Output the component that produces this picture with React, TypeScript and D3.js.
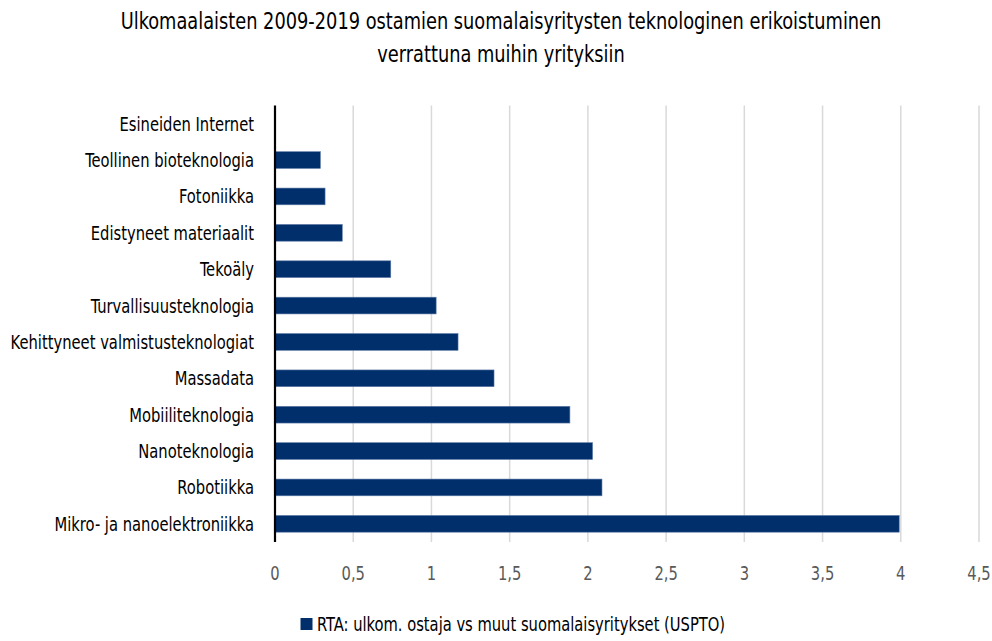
import * as d3 from 'd3'

const categories = [
  'Esineiden Internet',
  'Teollinen bioteknologia',
  'Fotoniikka',
  'Edistyneet materiaalit',
  'Tekoäly',
  'Turvallisuusteknologia',
  'Kehittyneet valmistusteknologiat',
  'Massadata',
  'Mobiiliteknologia',
  'Nanoteknologia',
  'Robotiikka',
  'Mikro- ja nanoelektroniikka',
]
const rtaValues = [0, 0.29, 0.32, 0.43, 0.74, 1.03, 1.17, 1.4, 1.885, 2.03, 2.09, 3.99]
const xTicks = [0, 0.5, 1, 1.5, 2, 2.5, 3, 3.5, 4, 4.5]
const titleLines = [
  'Ulkomaalaisten 2009-2019 ostamien suomalaisyritysten teknologinen erikoistuminen',
  'verrattuna muihin yrityksiin',
]
const seriesName = 'RTA: ulkom. ostaja vs muut suomalaisyritykset (USPTO)'

const W = 992
const H = 641
const margin = { top: 105.5, right: 13, bottom: 99, left: 275 }
const font = "'DejaVu Sans Condensed', 'Liberation Sans Narrow', 'Arial Narrow', sans-serif"
const barColor = '#002f6c'

// the original uses a narrow font, so glyphs get squeezed a bit horizontally
function NarrowText(props: {
  x: number
  y: number
  size: number
  sx: number
  anchor?: string
  fill?: string
  dy?: string
  children: string
}) {
  return (
    <text
      transform={`translate(${props.x},${props.y}) scale(${props.sx},1)`}
      dy={props.dy}
      textAnchor={props.anchor ?? 'start'}
      fontSize={props.size}
      fill={props.fill ?? '#000'}
    >
      {props.children}
    </text>
  )
}

export default function App() {
  const x = d3.scaleLinear().domain([0, 4.5]).range([margin.left, W - margin.right])
  const y = d3
    .scaleBand()
    .domain(categories)
    .range([margin.top, H - margin.bottom])
    .paddingInner(0.54)
    .paddingOuter(0.27)
  const fmt = (v: number) => String(v).replace('.', ',')

  return (
    <svg
      width={W}
      height={H}
      style={{ position: 'absolute', left: 0, top: 0, background: '#fff' }}
      fontFamily={font}
    >
      {titleLines.map((t, i) => (
        <NarrowText key={t} x={501} y={29 + i * 33} size={23} sx={0.86} anchor="middle">
          {t}
        </NarrowText>
      ))}

      {xTicks.map((t) =>
        t === 0 ? null : (
          <line
            key={'g' + t}
            x1={x(t)}
            x2={x(t)}
            y1={margin.top}
            y2={H - margin.bottom}
            stroke="#d9d9d9"
            strokeWidth={1.5}
          />
        )
      )}

      {categories.map((c, i) => (
        <rect
          key={c}
          x={x(0)}
          y={y(c)}
          width={x(rtaValues[i]) - x(0)}
          height={y.bandwidth()}
          fill={barColor}
          stroke="#5d7aa6"
          strokeWidth={0.6}
        />
      ))}

      <line
        x1={x(0)}
        x2={x(0)}
        y1={margin.top}
        y2={H - margin.bottom}
        stroke="#000"
        strokeWidth={2.2}
      />

      {categories.map((c) => (
        <NarrowText
          key={'l' + c}
          x={254}
          y={(y(c) ?? 0) + y.bandwidth() / 2}
          dy="0.35em"
          size={20}
          sx={0.82}
          anchor="end"
        >
          {c}
        </NarrowText>
      ))}

      {xTicks.map((t) => (
        <NarrowText
          key={'t' + t}
          x={x(t)}
          y={580}
          size={20}
          sx={0.82}
          anchor="middle"
          fill="#595959"
        >
          {fmt(t)}
        </NarrowText>
      ))}

      <rect x={300.5} y={618} width={12} height={12} fill={barColor} />
      <NarrowText x={317} y={630.5} size={20} sx={0.818}>
        {seriesName}
      </NarrowText>
    </svg>
  )
}
